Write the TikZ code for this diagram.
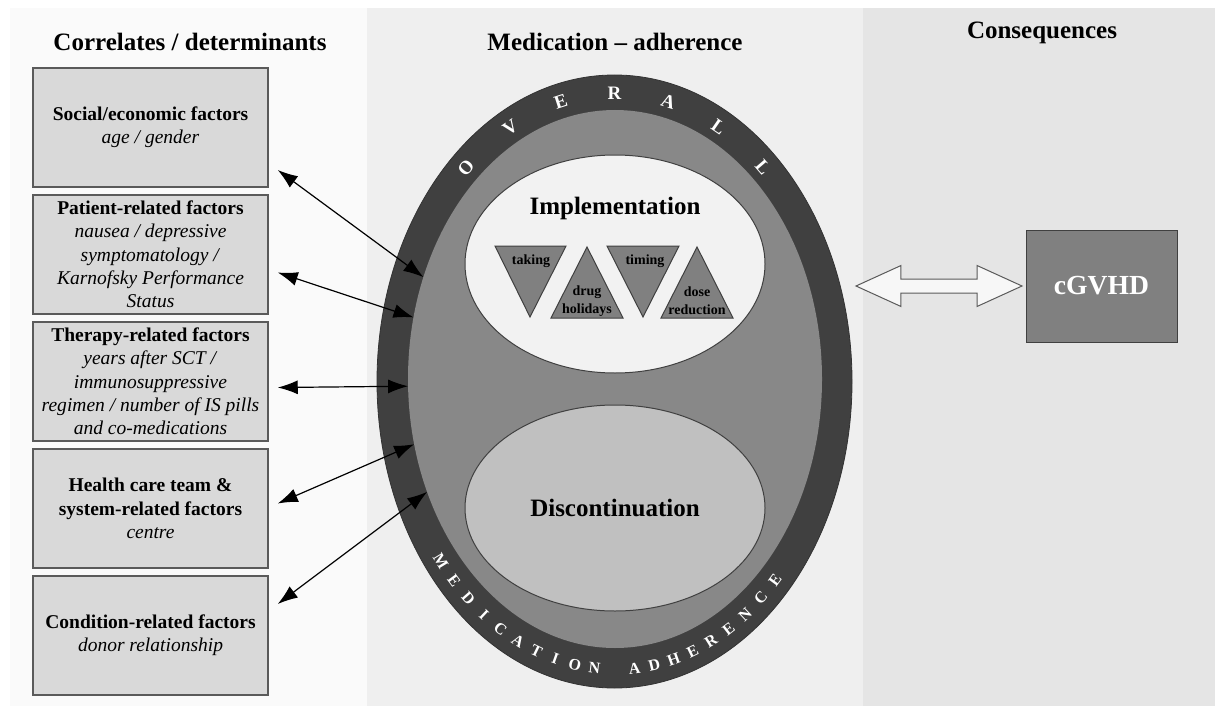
\documentclass[tikz,border=0pt]{standalone}
\usepackage{fontspec}
\setmainfont{Liberation Serif}
\usepackage{tikz}
\usetikzlibrary{positioning,shapes.geometric,shapes.arrows,arrows.meta}
\definecolor{leftpanel}{HTML}{FAFAFA}
\definecolor{midpanel}{HTML}{EFEFEF}
\definecolor{rightpanel}{HTML}{E5E5E5}
\definecolor{boxgray}{HTML}{D9D9D9}
\definecolor{ringdark}{HTML}{404040}
\definecolor{ringmid}{HTML}{888888}
\definecolor{implgray}{HTML}{F2F2F2}
\definecolor{discgray}{HTML}{C0C0C0}
\definecolor{trigray}{HTML}{808080}
\definecolor{edgegray}{HTML}{5A5A5A}

\begin{document}
\begin{tikzpicture}[x=0.5pt, y=-0.5pt, node distance=63.5pt, on grid,
	factor/.style={rectangle, fill=boxgray, draw=edgegray, line width=0.75pt, minimum width=117.5pt, minimum height=59.5pt, inner sep=0pt, align=center, font=\fontsize{9.75}{11.65}\selectfont},
	head/.style={font=\bfseries\fontsize{12.5}{15}\selectfont},
	ring/.style={ellipse, inner sep=0pt, outer sep=0pt},
	tri/.style={fill=trigray, draw=ringdark, line width=0.5pt},
	trilabel/.style={font=\bfseries\fontsize{7}{9}\selectfont, align=center, inner sep=0pt},
	ringtxt/.style={text=white, inner sep=0pt, font=\bfseries\fontsize{9.5}{10}\selectfont},
	conn/.style={{Latex[length=10pt,width=7pt]}-{Latex[length=10pt,width=7pt]}, draw=black, line width=0.6pt}]
	\useasboundingbox (0,0) rectangle (1215,706);
	% panels
	\fill[leftpanel] (10,8) rectangle (367,706);
	\fill[midpanel] (367,8) rectangle (863,706);
	\fill[rightpanel] (863,8) rectangle (1215,706);
	\node[head] (hleft) at (190,42) {Correlates / determinants};
	\node[head] (hmid) at (615,42) {Medication -- adherence};
	\node[head] (hright) at (1042,33) {Consequences};
	% factor boxes
	\node[factor] (b1) at (150.5,127.5) {\textbf{Social/economic factors}\\\textit{age / gender}};
	\node[factor] (b2) [below =of b1] {\textbf{Patient-related factors}\\\textit{nausea / depressive}\\\textit{symptomatology /}\\\textit{Karnofsky Performance}\\\textit{Status}};
	\node[factor] (b3) [below =of b2] {\textbf{Therapy-related factors}\\\textit{years after SCT /}\\\textit{immunosuppressive}\\\textit{regimen / number of IS pills}\\\textit{and co-medications}};
	\node[factor] (b4) [below =of b3] {\textbf{Health care team \&}\\\textbf{system-related factors}\\\textit{centre}};
	\node[factor] (b5) [below =of b4] {\textbf{Condition-related factors}\\\textit{donor relationship}};
	% adherence ellipse
	\node[ring, fill=ringdark, draw=black!80, minimum width=237.5pt, minimum height=306.5pt] (ovo) at (614.5,381.5) {};
	\node[ring, fill=ringmid, minimum width=207pt, minimum height=269pt] (ovi) at (615,379) {};
	\node[ring, fill=implgray, draw=ringdark, line width=0.5pt, minimum width=150pt, minimum height=109pt] (impl) at (615,264) {};
	\node[ring, fill=discgray, draw=ringdark, line width=0.5pt, minimum width=150pt, minimum height=103pt, head] (disc) at (615,508) {Discontinuation};
	\node[head] (impltxt) at (615,208) {Implementation};
	\draw[tri] (495,246) -- (566,246) -- (530,317) -- cycle;
	\node[trilabel] (taking) at (531,261) {taking};
	\draw[tri] (587,247) -- (623,318) -- (551,318) -- cycle;
	\node[trilabel] (drug) at (587,301) {drug\\holidays};
	\draw[tri] (607,246) -- (679,246) -- (643,317) -- cycle;
	\node[trilabel] (timing) at (645,261) {timing};
	\draw[tri] (697,247) -- (733,318) -- (661,318) -- cycle;
	\node[trilabel] (dose) at (697,301) {dose\\reduction};
	% letters round the ring
	\foreach \ch [count=\i] in {O,V,E,R,A,L,L}{
		\pgfmathsetmacro\t{146-14*\i}
		\pgfmathsetmacro\n{atan2(222*sin(\t),288*cos(\t))}
		\pgfmathsetmacro\r{\n-90}
		\node[ringtxt, rotate=\r] (top\i) at ({614.5+222*cos(\t)},{381.5-288*sin(\t)}) {\ch};
	}
	\foreach \ch [count=\i] in {M,E,D,I,C,A,T,I,O,N,{},A,D,H,E,R,E,N,C,E}{
		\pgfmathsetmacro\t{213.35+5.15*\i}
		\pgfmathsetmacro\n{atan2(222*sin(\t),288*cos(\t))}
		\pgfmathsetmacro\r{\n+90}
		\node[ringtxt, font=\bfseries\fontsize{8}{9}\selectfont, rotate=\r] (bot\i) at ({614.5+222*cos(\t)},{381.5-288*sin(\t)}) {\ch};
	}
	% consequence
	\node[fill=trigray, draw=ringdark, line width=0.5pt, minimum width=75.5pt, minimum height=56pt, text=white, font=\bfseries\fontsize{13.8}{16}\selectfont] (cg) at (1101.5,286) {cGVHD};
	\node[double arrow, draw=edgegray, fill=white!97!black, line width=0.5pt, inner xsep=0pt, inner ysep=3.25pt, minimum height=83pt, minimum width=20pt, double arrow head extend=6.75pt, double arrow tip angle=49] (link) at (939,286) {};
	% connectors
	\draw[conn] ([xshift=4.5pt,yshift=-21.25pt]b1.east) -- (ovi.152);
	\draw[conn] ([xshift=4.5pt,yshift=-9pt]b2.east) -- (ovi.163.8);
	\draw[conn] ([xshift=4.5pt,yshift=-3pt]b3.east) -- (ovi.182);
	\draw[conn] ([xshift=4.5pt,yshift=2.5pt]b4.east) -- (ovi.198.6);
	\draw[conn] ([xshift=4.5pt,yshift=15.75pt]b5.east) -- (ovi.211.7);
\end{tikzpicture}
\end{document}
